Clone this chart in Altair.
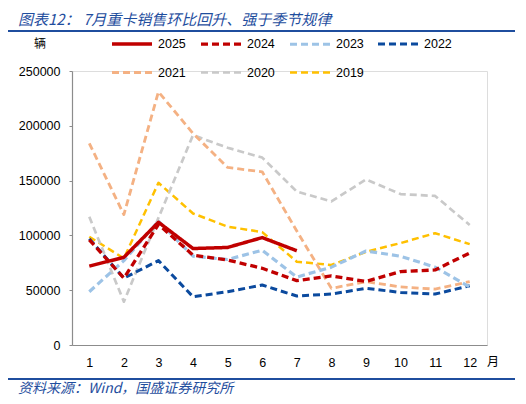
import altair as alt
import pandas as pd

# monthly heavy-truck sales (辆)
months = list(range(1, 13))
years = ["2025", "2024", "2023", "2022", "2021", "2020", "2019"]

sales_2025 = [72000, 80000, 112000, 88000, 89000, 98000, 86000]
sales_2024 = [96000, 61000, 110000, 82000, 77500, 70000, 58700, 63000, 58000, 67000, 68500, 84000]
sales_2023 = [48600, 77000, 113000, 81000, 78000, 86500, 62000, 71000, 85800, 81000, 71000, 53000]
sales_2022 = [97000, 61000, 77000, 44000, 48600, 54700, 44700, 46500, 51700, 48000, 46500, 54000]
sales_2021 = [184000, 119000, 231000, 193000, 162000, 158000, 104000, 51700, 57800, 53000, 51000, 57800]
sales_2020 = [117000, 39500, 116000, 191500, 180000, 171000, 140000, 131000, 151000, 137700, 136000, 109500]
sales_2019 = [98800, 79000, 148000, 120000, 108000, 103000, 76000, 73000, 85000, 93000, 102000, 92000]

colors = ["#C00000", "#C00000", "#9DC3E6", "#0B4A9E", "#F4B183", "#C9C9C9", "#FFC000"]
dashes = [[1, 0], [7, 4], [7, 4], [7, 4], [7, 4], [7, 4], [7, 4]]
widths = [3.5, 2.5, 2.5, 2.5, 2.5, 2.5, 2.5]

series = {
    "2019": sales_2019, "2020": sales_2020, "2021": sales_2021, "2022": sales_2022,
    "2023": sales_2023, "2024": sales_2024, "2025": sales_2025,
}
rows = []
for yr, vals in series.items():  # 2025 last so it draws on top
    for m, v in zip(months, vals):
        rows.append({"month": m, "year": yr, "sales": v})
df = pd.DataFrame(rows)

FONT = "Liberation Sans"
CJK = "Noto Sans CJK SC"
BLUE = "#1F4E9E"

lines = (
    alt.Chart(df)
    .mark_line(strokeCap="butt", strokeJoin="round")
    .encode(
        x=alt.X("month:O", scale=alt.Scale(domain=months, padding=0.5),
                axis=alt.Axis(title=None, labelAngle=0, ticks=False, labelPadding=11,
                              labelFontSize=12.5, labelFont=FONT, labelColor="#000",
                              domainColor="#8C8C8C", domainWidth=1.2)),
        y=alt.Y("sales:Q", scale=alt.Scale(domain=[0, 250000], nice=False),
                axis=alt.Axis(title=None, values=[0, 50000, 100000, 150000, 200000, 250000],
                              format="d", grid=False, tickSize=3, tickColor="#8C8C8C",
                              labelPadding=9, labelFontSize=12.5, labelFont=FONT,
                              labelColor="#000", domainColor="#8C8C8C", domainWidth=1.2)),
        color=alt.Color("year:N", scale=alt.Scale(domain=years, range=colors),
                        legend=alt.Legend(title=None, orient="none", legendX=38, legendY=-49,
                                          direction="horizontal", columns=4, symbolType="stroke",
                                          symbolSize=1600, labelFontSize=12.5, labelFont=FONT,
                                          labelColor="#000", labelOffset=4, columnPadding=8,
                                          rowPadding=0)),
        strokeDash=alt.StrokeDash("year:N", scale=alt.Scale(domain=years, range=dashes)),
        strokeWidth=alt.StrokeWidth("year:N", scale=alt.Scale(domain=years, range=widths)),
    )
)

title = alt.Chart().mark_text(
    text="图表12： 7月重卡销售环比回升、强于季节规律", font=CJK, fontSize=15,
    fontStyle="italic", color=BLUE, align="left", baseline="middle",
).encode(x=alt.value(-54), y=alt.value(-51))

source = alt.Chart().mark_text(
    text="资料来源：Wind，国盛证券研究所", font=CJK, fontSize=14,
    fontStyle="italic", color=BLUE, align="left", baseline="middle",
).encode(x=alt.value(-54), y=alt.value(318))

top_rule = alt.Chart().mark_rule(color=BLUE, strokeWidth=2).encode(
    x=alt.value(-67), x2=alt.value(443), y=alt.value(-40))
bottom_rule = alt.Chart().mark_rule(color=BLUE, strokeWidth=2).encode(
    x=alt.value(-67), x2=alt.value(443), y=alt.value(308))

unit_y = alt.Chart().mark_text(text="辆", font=CJK, fontSize=12, color="#000").encode(
    x=alt.value(-32), y=alt.value(-27))
unit_x = alt.Chart().mark_text(text="月", font=CJK, fontSize=12, color="#000").encode(
    x=alt.value(421), y=alt.value(291))

chart = (
    alt.layer(lines, title, source, top_rule, bottom_rule, unit_y, unit_x)
    .properties(width=415, height=274,
                autosize=alt.AutoSizeParams(type="none"),
                padding={"left": 64, "top": 63, "right": 31, "bottom": 59})
    .configure_view(stroke=None)
    .configure(background="white")
)

chart.save("out.html", embed_options={"renderer": "svg", "actions": False})
